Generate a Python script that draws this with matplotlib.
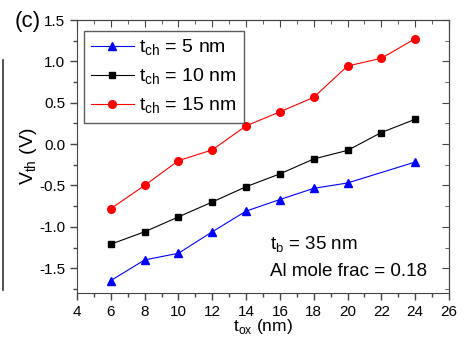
import matplotlib
matplotlib.use("Agg")
import matplotlib.pyplot as plt
from matplotlib.lines import Line2D
from matplotlib.ticker import MultipleLocator, FormatStrFormatter

plt.rcParams["font.family"] = ["Liberation Sans", "DejaVu Sans"]

# threshold voltage vs oxide thickness
t_ox = [6, 8, 10, 12, 14, 16, 18, 20, 22, 24]
t_ox_5nm = [6, 8, 10, 12, 14, 16, 18, 20, 24]
vth_5nm = [-1.65, -1.40, -1.32, -1.06, -0.81, -0.67, -0.535, -0.47, -0.217]
vth_10nm = [-1.21, -1.06, -0.88, -0.70, -0.515, -0.36, -0.18, -0.076, 0.14, 0.30]
vth_15nm = [-0.78, -0.50, -0.20, -0.07, 0.22, 0.39, 0.565, 0.944, 1.037, 1.274]

labels = [r"t$_{\mathregular{ch}}$ = 5 nm",
          r"t$_{\mathregular{ch}}$ = 10 nm",
          r"t$_{\mathregular{ch}}$ = 15 nm"]

fig = plt.figure(figsize=(4.74, 3.39), dpi=100)
ax = fig.add_axes([77 / 474, 1 - 293 / 339, (449 - 77) / 474, (293 - 20) / 339])

ax.plot(t_ox_5nm, vth_5nm, color="blue", lw=0.8, marker="^", ms=6, label=labels[0])
ax.plot(t_ox, vth_10nm, color="black", lw=0.8, marker="s", ms=5, label=labels[1])
ax.plot(t_ox, vth_15nm, color="red", lw=0.8, marker="o", ms=5.5, label=labels[2])

ax.set_xlim(4, 26)
ax.set_ylim(-1.8, 1.5)
ax.xaxis.set_major_locator(MultipleLocator(2))
ax.xaxis.set_minor_locator(MultipleLocator(1))
ax.yaxis.set_major_locator(MultipleLocator(0.5))
ax.yaxis.set_minor_locator(MultipleLocator(0.25))
ax.yaxis.set_major_formatter(FormatStrFormatter("%.1f"))

ax.tick_params(which="both", direction="out", labelsize=11, color="#444444", width=1)
ax.tick_params(which="major", length=5)
ax.tick_params(which="minor", length=3)

# top and right ticks point inward, without labels
top = ax.secondary_xaxis("top")
top.xaxis.set_major_locator(MultipleLocator(2))
top.xaxis.set_minor_locator(MultipleLocator(1))
top.tick_params(which="both", direction="in", labeltop=False, color="#444444")
top.tick_params(which="major", length=5)
top.tick_params(which="minor", length=3)
right = ax.secondary_yaxis("right")
right.yaxis.set_major_locator(MultipleLocator(0.5))
right.yaxis.set_minor_locator(MultipleLocator(0.25))
right.tick_params(which="both", direction="in", labelright=False, color="#444444")
right.tick_params(which="major", length=5)
right.tick_params(which="minor", length=3)

for sp in list(ax.spines.values()) + [top.spines["top"], right.spines["right"]]:
    sp.set_color("#444444")

ax.set_xlabel(r"t$_{\mathregular{ox}}$ (nm)", fontsize=12.5, labelpad=-1)
ax.set_ylabel(r"V$_{\mathregular{th}}$ (V)", fontsize=14, labelpad=0)

leg = ax.legend(loc="upper left", bbox_to_anchor=(0.019, 0.96), fontsize=14,
                frameon=True, fancybox=False, edgecolor="#333333",
                borderpad=0.35, labelspacing=0.45, handlelength=2.2,
                handletextpad=0.3, borderaxespad=0)
leg.get_frame().set_linewidth(1)

ax.text(270 / 474, 1 - 245 / 339, r"t$_{\mathregular{b}}$ = 35 nm", transform=fig.transFigure,
        fontsize=13.5, va="center")
ax.text(270 / 474, 1 - 271 / 339, "Al mole frac = 0.18", transform=fig.transFigure,
        fontsize=13.5, va="center")

fig.text(15 / 474, 1 - 22 / 339, "(c)", fontsize=16, va="center")
fig.add_artist(Line2D([3 / 474, 3 / 474], [1 - 60 / 339, 1 - 290 / 339],
                      transform=fig.transFigure, color="#333333", lw=1.2))

fig.savefig("out.png", dpi=100)
